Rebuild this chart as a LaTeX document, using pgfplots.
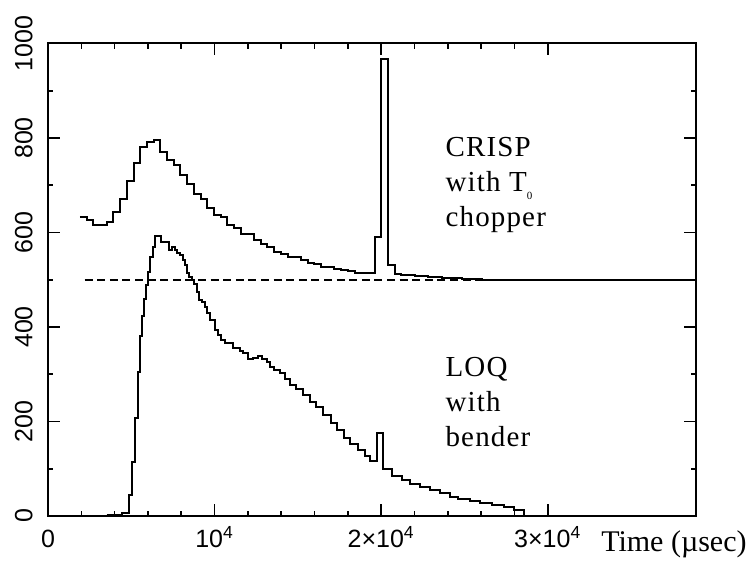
\documentclass[border=0pt]{standalone}
\usepackage{fontspec}
\setmainfont{Liberation Serif}
\setsansfont{Liberation Sans}
\usepackage{pgfplots}
\pgfplotsset{compat=1.18}
\pgfplotstableread{
x y
1920 633
2322 626
2724 616
3126 615
3528 622
3930 643
4332 671
4734 708
5136 748
5538 782
5940 792
6342 796
6744 770
7146 753
7548 743
7950 722
8352 702
8754 681
9156 671
9558 651
9960 637
10362 632
10764 616
11166 609
11568 596
11970 596
12372 584
12774 576
13176 569
13578 559
13980 554
14382 549
14784 549
15186 542
15588 536
15990 533
16392 528
16794 528
17196 523
17598 521
18000 519
18402 515
18804 515
19206 515
19608 590
20010 967
20412 531
20814 512
21216 511
21618 510
22020 508
22422 507
22824 506
23226 505
23628 504
24030 503
24432 503
24834 502
25236 502
25638 501
26040 500
38900 500
}\crisp
\pgfplotstableread{
x y
3520 2
4420 6
4880 44
5060 115
5220 207
5400 305
5540 380
5660 424
5790 459
5900 489
6000 517
6130 549
6290 570
6430 592
6770 580
7290 563
7430 570
7630 563
7770 557
7930 552
8090 542
8230 531
8370 514
8490 506
8630 499
8770 492
8930 475
9070 457
9230 452
9430 443
9570 429
9730 415
10030 394
10230 383
10370 372
10630 367
11130 355
11530 350
11730 344
12030 332
12330 334
12630 339
12870 332
13130 325
13330 316
13590 308
13930 302
14230 291
14530 277
14870 268
15330 256
15730 242
16080 230
16480 214
17000 197
17340 183
17740 166
18100 152
18600 140
19000 127
19300 116
19740 175
20140 99
20640 85
21240 76
21740 68
22340 61
22940 54
23540 48
24140 41
24640 37
25340 32
25950 28
26650 23
27350 20
27950 13
28550 1
38900 1
}\loq
\begin{document}
\begin{tikzpicture}
\path[use as bounding box] (-24pt,-28.5pt) rectangle (350.5pt,258pt);
\begin{axis}[
  at={(0pt,0pt)}, anchor=south west,
  scale only axis, width=324pt, height=236.25pt,
  xmin=0, xmax=38900, ymin=0, ymax=1000,
  axis line style={line width=1pt},
  every tick/.style={line width=0.8pt, black},
  tick align=inside,
  major tick length=6pt, minor tick length=2.75pt,
  xtick={0,10000,20000,30000},
  xticklabels={0, 10\textsuperscript{4}, 2×10\textsuperscript{4}, 3×10\textsuperscript{4}},
  minor x tick num=4,
  ytick={0,200,400,600,800,1000},
  yticklabels={0,200,400,600,800,1000},
  minor y tick num=1,
  tick label style={font=\sffamily\fontsize{12.5}{12.5}\selectfont},
  yticklabel style={rotate=90, anchor=south, inner xsep=0pt, inner ysep=7.5pt},
  xticklabel style={anchor=base, inner sep=0pt, yshift=-15.5pt},
  clip=false,
]
\addplot[black, line width=1pt, const plot] table[x=x,y=y] {\crisp};
\addplot[black, line width=1pt, const plot] table[x=x,y=y] {\loq};
\addplot[black, line width=0.8pt, dash pattern=on 4pt off 2.3pt] coordinates {(2200,500) (38900,500)};
\begin{scope}[font=\fontsize{14.5}{17}\selectfont\addfontfeature{LetterSpace=4}]
\node[anchor=base west, inner sep=0pt] at (axis cs:23844,760) {CRISP};
\node[anchor=base west, inner sep=0pt] at (axis cs:23844,686) {with T\raisebox{-4pt}{\fontsize{5.5}{5.5}\selectfont 0}};
\node[anchor=base west, inner sep=0pt] at (axis cs:23844,612) {chopper};
\node[anchor=base west, inner sep=0pt] at (axis cs:23844,296) {LOQ};
\node[anchor=base west, inner sep=0pt] at (axis cs:23844,222) {with};
\node[anchor=base west, inner sep=0pt] at (axis cs:23844,148) {bender};
\end{scope}
\end{axis}
\node[anchor=base east, inner sep=0pt, font=\fontsize{15}{17}\selectfont] at (349.5pt,-17.5pt) {Time (µsec)};
\end{tikzpicture}
\end{document}
